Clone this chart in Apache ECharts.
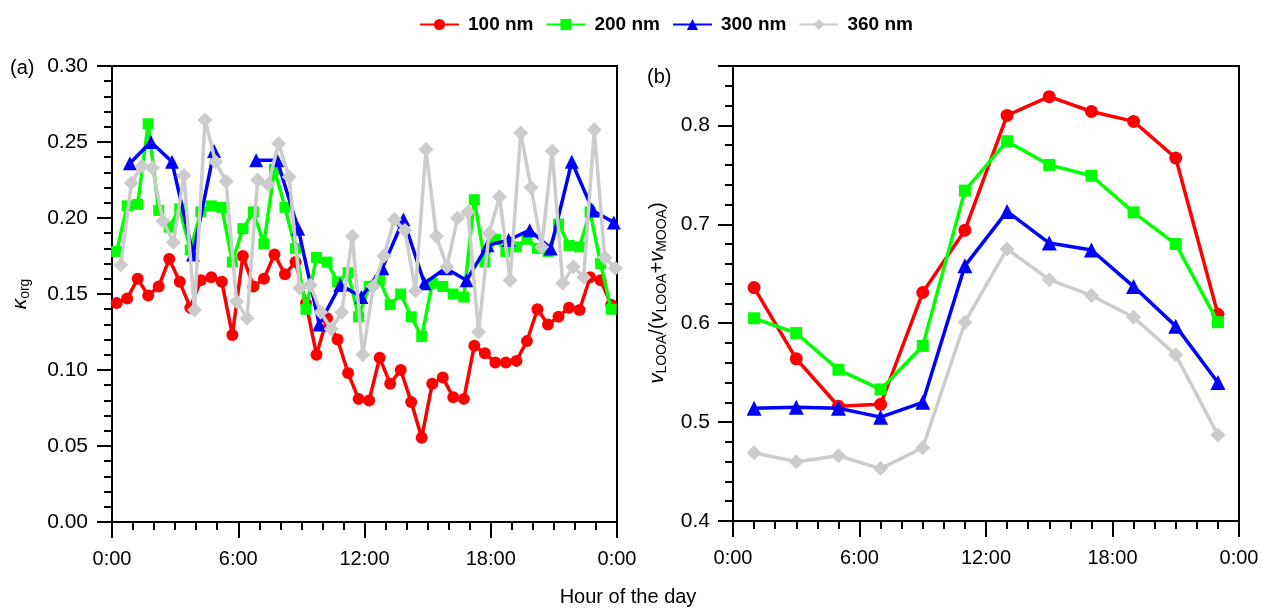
<!DOCTYPE html>
<html>
<head>
<meta charset="utf-8">
<script src="https://cdn.jsdelivr.net/npm/echarts@6/dist/echarts.min.js"></script>
<style>html,body{margin:0;padding:0;background:#fff}#c{width:1262px;height:608px}</style>
</head>
<body>
<div id="c"></div>
<script>
// ---------- DATA ----------
const seriesNames = ['100 nm', '200 nm', '300 nm', '360 nm'];
// panel (a): hour of day for each measurement
const tA100 = [0.22,0.72,1.22,1.72,2.22,2.72,3.22,3.72,4.22,4.72,5.22,5.72,6.22,6.72,7.22,7.72,8.22,8.72,9.22,9.72,10.22,10.72,11.22,11.72,12.22,12.72,13.22,13.72,14.22,14.72,15.22,15.72,16.22,16.72,17.22,17.72,18.22,18.72,19.22,19.72,20.22,20.72,21.22,21.72,22.22,22.72,23.22,23.72];
const tA200 = [0.22,0.72,1.22,1.72,2.22,2.72,3.22,3.72,4.22,4.72,5.22,5.72,6.22,6.72,7.22,7.72,8.22,8.72,9.22,9.72,10.22,10.72,11.22,11.72,12.22,12.72,13.22,13.72,14.22,14.72,15.22,15.72,16.22,16.72,17.22,17.72,18.22,18.72,19.22,19.72,20.22,20.72,21.22,21.72,22.22,22.72,23.22,23.72];
const tA300 = [0.85,1.85,2.85,3.85,4.85,5.85,6.85,7.85,8.85,9.85,10.85,11.85,12.85,13.85,14.85,15.85,16.85,17.85,18.85,19.85,20.85,21.85,22.85,23.85];
const tA360 = [0.42,0.92,1.42,1.92,2.42,2.92,3.42,3.92,4.42,4.92,5.42,5.92,6.42,6.92,7.42,7.92,8.42,8.92,9.42,9.92,10.42,10.92,11.42,11.92,12.42,12.92,13.42,13.92,14.42,14.92,15.42,15.92,16.42,16.92,17.42,17.92,18.42,18.92,19.42,19.92,20.42,20.92,21.42,21.92,22.42,22.92,23.42,23.92];
// kappa_org values
const kA100 = [0.144,0.147,0.160,0.149,0.155,0.173,0.158,0.141,0.159,0.161,0.158,0.123,0.175,0.155,0.160,0.176,0.163,0.171,0.144,0.110,0.134,0.120,0.098,0.081,0.080,0.108,0.091,0.100,0.079,0.0555,0.091,0.095,0.082,0.081,0.116,0.111,0.105,0.105,0.106,0.119,0.140,0.130,0.135,0.141,0.1395,0.161,0.159,0.143];
const kA200 = [0.178,0.208,0.209,0.262,0.205,0.194,0.206,0.179,0.204,0.208,0.207,0.171,0.193,0.204,0.183,0.232,0.207,0.180,0.140,0.174,0.171,0.158,0.164,0.135,0.155,0.159,0.143,0.150,0.135,0.122,0.157,0.155,0.150,0.148,0.212,0.171,0.186,0.178,0.181,0.186,0.180,0.178,0.196,0.182,0.181,0.204,0.170,0.140];
const kA300 = [0.236,0.250,0.237,0.176,0.244,null,0.238,0.238,0.193,0.130,0.156,0.148,0.167,0.199,0.157,0.167,0.159,0.182,0.1855,0.192,0.180,0.237,0.205,0.197];
const kA360 = [0.169,0.223,0.234,0.233,0.198,0.184,0.228,0.1395,0.2645,0.237,0.224,0.145,0.134,0.225,0.222,0.249,0.227,0.154,0.156,0.138,0.127,0.138,0.188,0.110,0.155,0.175,0.199,0.192,0.152,0.245,0.188,0.168,0.200,0.204,0.125,0.190,0.214,0.159,0.256,0.220,0.181,0.244,0.157,0.168,0.161,0.258,0.174,0.167];
// panel (b)
const tB = [1,3,5,7,9,11,13,15,17,19,21,23];
const fB100 = [0.636,0.564,0.516,0.518,0.631,0.694,0.810,0.829,0.814,0.804,0.767,0.609];
const fB200 = [0.605,0.590,0.553,0.533,0.577,0.734,0.784,0.760,0.749,0.712,0.680,0.601];
const fB300 = [0.514,0.515,0.514,0.505,0.520,0.658,0.713,0.681,0.674,0.637,0.597,0.540];
const fB360 = [0.469,0.460,0.466,0.453,0.474,0.601,0.675,0.644,0.628,0.606,0.568,0.487];
const hourTicks = [0, 6, 12, 18, 24];

// ---------- STYLE ----------
const FONT = 'Liberation Sans, Arial, sans-serif';
const colors = ['#ff0000', '#00ff00', '#0000ff', '#cccccc'];
const symbols = ['circle', 'rect', 'triangle', 'diamond'];
const sizesA = [12, 11, 14, 15];
const sizesB = [13, 12, 15, 15];

function pairs(t, v) { return t.map((x, i) => [x, v[i] == null ? '-' : v[i]]); }
function hourFmt(v) { return (Math.round(v) % 24) + ':00'; }

function xAxis(gi) {
  return {
    type: 'value', gridIndex: gi, min: hourTicks[0], max: hourTicks[hourTicks.length - 1], interval: 6,
    axisLine: { lineStyle: { color: '#000', width: 2 } },
    axisTick: { inside: false, length: 16, lineStyle: { color: '#000', width: 2 } },
    minorTick: { show: true, splitNumber: 6, length: 8, lineStyle: { color: '#000', width: 2 } },
    splitLine: { show: false },
    axisLabel: { formatter: hourFmt, fontFamily: FONT, fontSize: 20, color: '#000', margin: 27 }
  };
}

const dataA = [pairs(tA100, kA100), pairs(tA200, kA200), pairs(tA300, kA300), pairs(tA360, kA360)];
const dataB = [pairs(tB, fB100), pairs(tB, fB200), pairs(tB, fB300), pairs(tB, fB360)];

const series = [];
for (let i = 0; i < 4; i++) {
  series.push({
    name: seriesNames[i], type: 'line', xAxisIndex: 0, yAxisIndex: 0, data: dataA[i],
    symbol: symbols[i], symbolSize: sizesA[i], showAllSymbol: true, connectNulls: false,
    lineStyle: { color: colors[i], width: 3.5 }, itemStyle: { color: colors[i] },
    emphasis: { disabled: true }, animation: false, z: 2 + i
  });
}
for (let i = 0; i < 4; i++) {
  series.push({
    name: seriesNames[i], type: 'line', xAxisIndex: 1, yAxisIndex: 1, data: dataB[i],
    symbol: symbols[i], symbolSize: sizesB[i], showAllSymbol: true,
    lineStyle: { color: colors[i], width: 3.5 }, itemStyle: { color: colors[i] },
    emphasis: { disabled: true }, animation: false, z: 2 + i
  });
}

const chart = echarts.init(document.getElementById('c'), null, { renderer: 'canvas' });
chart.setOption({
  animation: false,
  backgroundColor: '#fff',
  legend: {
    data: seriesNames, top: 10, left: 414, itemWidth: 39, itemHeight: 14, itemGap: 12,
    textStyle: { fontFamily: FONT, fontWeight: 'bold', fontSize: 19, color: '#000', padding: [0, 0, 0, 4] }
  },
  grid: [
    { left: 112, right: 645, top: 66, bottom: 86, show: true, borderColor: '#000', borderWidth: 2, containLabel: false },
    { left: 733, right: 23, top: 66, bottom: 87, show: true, borderColor: '#000', borderWidth: 2, containLabel: false }
  ],
  xAxis: [xAxis(0), xAxis(1)],
  yAxis: [
    {
      type: 'value', gridIndex: 0, min: 0, max: 0.3, interval: 0.05,
      axisLine: { show: true, lineStyle: { color: '#000', width: 2 } },
      axisTick: { show: true, inside: false, length: 15, lineStyle: { color: '#000', width: 2 } },
      minorTick: { show: true, splitNumber: 5, length: 8, lineStyle: { color: '#000', width: 2 } },
      splitLine: { show: false },
      axisLabel: { formatter: v => v.toFixed(2), fontFamily: FONT, fontSize: 21, color: '#000', margin: 24 }
    },
    {
      type: 'value', gridIndex: 1, min: 0.4, max: 0.86, interval: 0.1,
      axisLine: { show: true, lineStyle: { color: '#000', width: 2 } },
      axisTick: { show: true, inside: false, length: 15, lineStyle: { color: '#000', width: 2 } },
      minorTick: { show: true, splitNumber: 5, length: 8, lineStyle: { color: '#000', width: 2 } },
      splitLine: { show: false },
      axisLabel: { formatter: v => (Math.abs(v - 0.86) < 1e-6 ? '' : v.toFixed(1)), showMaxLabel: false, fontFamily: FONT, fontSize: 21, color: '#000', margin: 23 }
    }
  ],
  graphic: [
    { type: 'text', left: 10, top: 58, style: { text: '(a)', font: '20px ' + FONT, fill: '#000' } },
    { type: 'text', left: 647, top: 67, style: { text: '(b)', font: '20px ' + FONT, fill: '#000' } },
    { type: 'text', x: 628, y: 597, style: { text: 'Hour of the day', font: '20px ' + FONT, fill: '#000', align: 'center', verticalAlign: 'middle' } },
    {
      type: 'text', x: 20, y: 294, rotation: Math.PI / 2,
      style: {
        text: '{k|κ}{s|org}', align: 'center', verticalAlign: 'middle', fill: '#000',
        rich: {
          k: { fontFamily: FONT, fontSize: 21, fontStyle: 'italic', fill: '#000' },
          s: { fontFamily: FONT, fontSize: 14, fill: '#000', padding: [10, 0, 0, 0] }
        }
      }
    },
    {
      type: 'text', x: 657, y: 293, rotation: Math.PI / 2,
      style: {
        text: '{v|v}{s|LOOA}{n|/(}{v|v}{s|LOOA}{n|+}{v|v}{s|MOOA}{n|)}', align: 'center', verticalAlign: 'middle', fill: '#000',
        rich: {
          v: { fontFamily: FONT, fontSize: 20, fontStyle: 'italic', fill: '#000' },
          n: { fontFamily: FONT, fontSize: 20, fill: '#000' },
          s: { fontFamily: FONT, fontSize: 14, fill: '#000', padding: [10, 0, 0, 0] }
        }
      }
    }
  ],
  series: series
});
</script>
</body>
</html>
